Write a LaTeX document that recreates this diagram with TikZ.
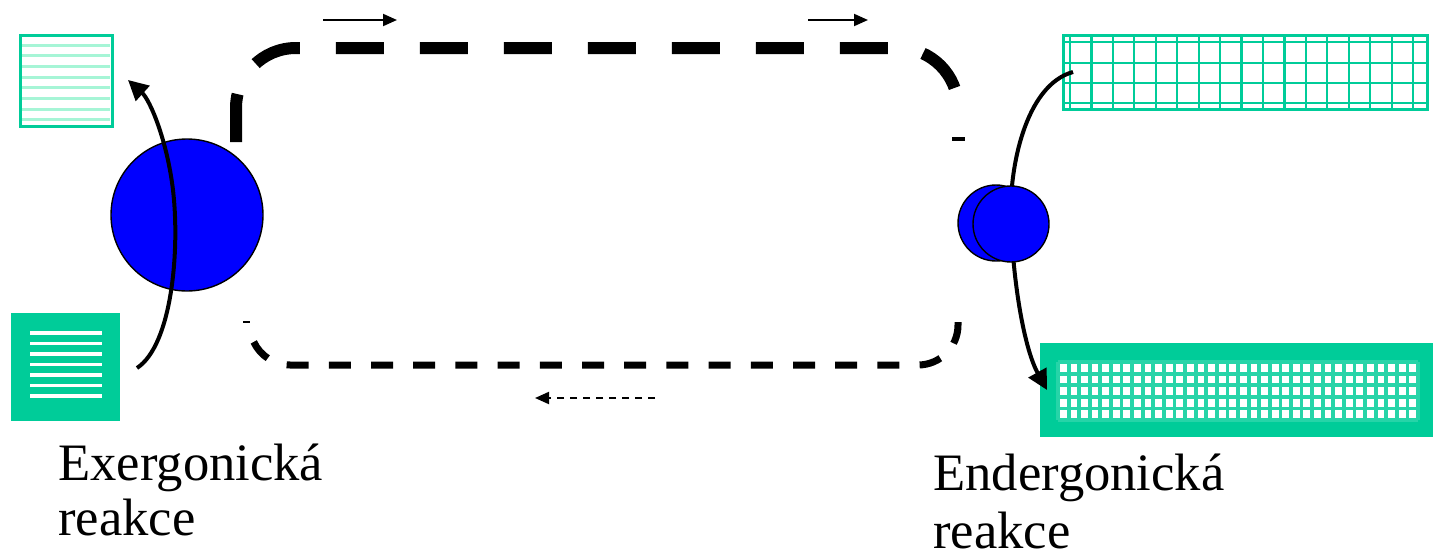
\documentclass[tikz,border=0pt]{standalone}
\usepackage{fontspec}
\setmainfont{Liberation Serif}
\usetikzlibrary{arrows.meta}
\definecolor{teal1}{HTML}{00CC99}
\definecolor{mint}{HTML}{A6F5D6}
\definecolor{blu}{HTML}{0000FF}
\begin{document}
\begin{tikzpicture}[x=0.5pt,y=-0.5pt,
  lbl/.style={font=\fontsize{26.3}{28}\selectfont, inner sep=0pt, anchor=base west},
  ball/.style={circle, draw=black, line width=0.7pt, fill=blu, inner sep=0pt},
  bigdash/.style={line width=6pt, dash pattern=on 24pt off 18pt, rounded corners=30pt},
  smalldash/.style={line width=3.5pt, dash pattern=on 11pt off 10.1pt},
  thinarrow/.style={line width=1pt, -{Triangle[length=7pt,width=6pt]}},
  curvearrow/.style={line width=2pt, -{Triangle[length=10pt,width=10pt]}},
  gridline/.style={teal1, line width=1.1pt},
  mintline/.style={mint, line width=1.5pt},
  biggrid/.style={teal1!85, line width=1.9pt}]
\useasboundingbox (0,0) rectangle (1433,557);

% top-left square
\draw[teal1, line width=1.5pt] (20,35) rectangle (112,126);
\foreach \i in {0,...,7} \draw[mintline] (22,{45+10.7*\i}) -- (110,{45+10.7*\i});

% bottom-left square
\fill[teal1] (11,313) rectangle (120,421);
\foreach \i in {0,...,6} \draw[white, line width=1.8pt] (30,{333+10.5*\i}) -- (102,{333+10.5*\i});

% top-right grid
\foreach \i in {0,...,16} \draw[gridline] ({1070+21.44*\i},35) -- ({1070+21.44*\i},109);
\foreach \y in {42,63,83,103} \draw[gridline] (1063,\y) -- (1427,\y);
\draw[teal1, line width=1.5pt] (1063,35) rectangle (1427,109);

% bottom-right grid
\fill[teal1] (1040,343) rectangle (1433,437);
\fill[white] (1058,362) rectangle (1418,420);
\foreach \i in {0,...,34} \draw[biggrid] ({1058+10.59*\i},362) -- ({1058+10.59*\i},420);
\foreach \i in {0,...,5} \draw[biggrid] (1058,{362+11.6*\i}) -- (1418,{362+11.6*\i});

% dashed cycle
\draw[bigdash] (236,142) -- (236,48) -- (958,48) -- (958,112);
\draw[smalldash] (958,322) -- (958,325) arc[start angle=0, end angle=90, radius=40] -- (290,365) arc[start angle=90, end angle=155, radius=40];
\draw[line width=0.8pt] (243,322) -- (250,322);
\draw[line width=1.6pt] (952,139) -- (965,139);

% small arrows
\coordinate (a1s) at (323,20); \coordinate (a1e) at (397,20);
\coordinate (a2s) at (808,20); \coordinate (a2e) at (868,20);
\coordinate (a3s) at (655,398); \coordinate (a3e) at (535,398);
\draw[thinarrow] (a1s) -- (a1e);
\draw[thinarrow] (a2s) -- (a2e);
\draw[thinarrow, dash pattern=on 3.5pt off 3pt] (a3s) -- (a3e);

% left: big ball with reaction arrow
\node[ball, minimum size=76pt] (bigc) at (187,215) {};
\coordinate (ls) at (137,368);
\coordinate (le) at (128,80);
\draw[curvearrow] (ls) .. controls (172,345) and (180,250) .. (173,190) .. controls (167,140) and (150,100) .. (le);

% right: reaction arrow behind two balls
\coordinate (rs) at (1073,72);
\coordinate (re) at (1047,390);
\draw[curvearrow] (rs) .. controls (1025,85) and (1008,170) .. (1011,225) .. controls (1014,290) and (1025,350) .. (re);
\node[ball, minimum size=38pt] (smallb) at (996,223) {};
\node[ball, minimum size=38pt] (smallf) at (1011,224) {};

% labels
\node[lbl] (t1) at (58,480) {Exergonická};
\node[lbl] (t2) at (58,535) {reakce};
\node[lbl] (t3) at (933,490) {Endergonická};
\node[lbl] (t4) at (933,548) {reakce};
\end{tikzpicture}
\end{document}
